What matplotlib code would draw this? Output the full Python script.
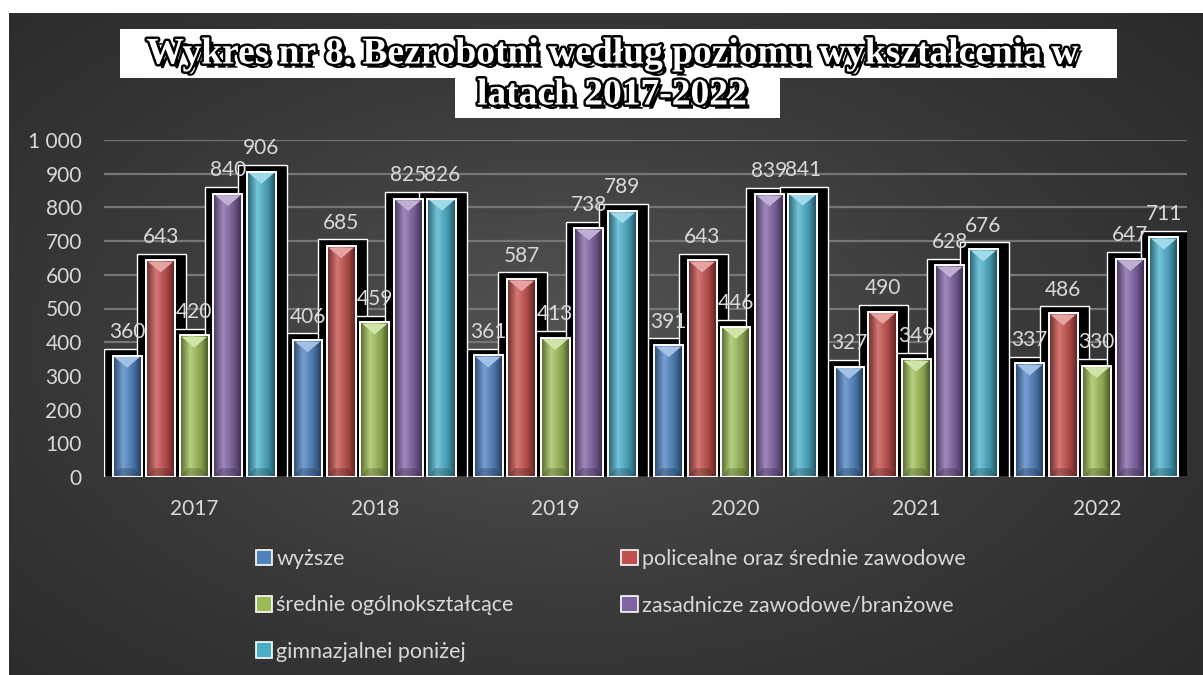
import numpy as np
import matplotlib

matplotlib.use("Agg")

import matplotlib.pyplot as plt
from matplotlib import patheffects
from matplotlib.colors import LinearSegmentedColormap, to_rgb
from matplotlib.patches import Patch, Rectangle
from matplotlib.ticker import FuncFormatter

plt.rcParams["font.family"] = ["Lato", "DejaVu Sans"]

years = ["2017", "2018", "2019", "2020", "2021", "2022"]
series_names = [
    "wyższe",
    "policealne oraz średnie zawodowe",
    "średnie ogólnokształcące",
    "zasadnicze zawodowe/branżowe",
    "gimnazjalnei poniżej",
]
wyzsze = [360, 406, 361, 391, 327, 337]
policealne = [643, 685, 587, 643, 490, 486]
srednie = [420, 459, 413, 446, 349, 330]
zasadnicze = [840, 825, 738, 839, 628, 647]
gimnazjalne = [906, 826, 789, 841, 676, 711]
series_values = [wyzsze, policealne, srednie, zasadnicze, gimnazjalne]
colors = ["#4f81bd", "#c0504d", "#9bbb59", "#8064a2", "#4bacc6"]

TEXT_COLOR = "#d9d9d9"

fig = plt.figure(figsize=(12.03, 6.75), dpi=100)
fig.patch.set_facecolor("white")

# ciemne tło z gradientem
bg_ax = fig.add_axes([9 / 1203, 0, 1 - 9 / 1203, 1 - 13 / 675], zorder=-1)
gx, gy = np.meshgrid(np.linspace(0, 1, 300), np.linspace(0, 1, 200))
dist = np.sqrt(((gx - 0.47) / 0.75) ** 2 + ((gy - 0.5) / 0.8) ** 2)
shade = np.clip(1 - dist, 0, 1)
bg_cmap = LinearSegmentedColormap.from_list("bg", ["#282828", "#3a3a3a", "#545454"])
bg_ax.imshow(shade, cmap=bg_cmap, aspect="auto", extent=(0, 1, 0, 1), vmin=0, vmax=1)
bg_ax.axis("off")

ax = fig.add_axes([104 / 1203, 1 - 477 / 675, (1187 - 104) / 1203, (477 - 140) / 675])
ax.set_facecolor("none")

x = np.arange(len(years))
pitch = 0.186
width = 0.16

# cienie słupków
for i, values in enumerate(series_values):
    vals = np.array(values)
    ax.bar(x + (i - 2) * pitch + 0.006, vals + 20, width + 0.11,
           color="black", edgecolor="white", linewidth=1.0, zorder=2)

# słupki z gradientem
for i, (values, color) in enumerate(zip(series_values, colors)):
    base = np.array(to_rgb(color))
    dark = base * 0.55
    light = np.clip(base * 0.85 + 0.2, 0, 1)
    cmap = LinearSegmentedColormap.from_list(
        f"g{i}", [(0, dark), (0.35, light), (0.75, base * 0.85), (1, dark * 0.8)]
    )
    grad = np.tile(np.linspace(0, 1, 64), (8, 1))
    bars = ax.bar(x + (i - 2) * pitch, values, width, color=color, zorder=3)
    for bar in bars:
        x0, w, h = bar.get_x(), bar.get_width(), bar.get_height()
        im = ax.imshow(grad, cmap=cmap, aspect="auto", extent=(x0, x0 + w, 0, h),
                       interpolation="bicubic", zorder=3.2)
        im.set_clip_path(bar)
        tip = np.clip(base * 0.6 + 0.45, 0, 1)
        ax.fill([x0 + w * 0.06, x0 + w * 0.94, x0 + w / 2], [h - 4, h - 4, h - 36],
                color=tip, zorder=3.4, linewidth=0)
        ax.fill([x0 + w * 0.06, x0 + w * 0.94, x0 + w * 0.75, x0 + w * 0.25],
                [4, 4, 26, 26], color=dark * 0.8, alpha=0.35, zorder=3.4, linewidth=0)
        ax.annotate(str(int(h)), (x0 + w / 2, h), xytext=(0, 17), textcoords="offset points",
                    ha="center", va="center", fontsize=15, color=TEXT_COLOR, zorder=6)
    ax.bar(x + (i - 2) * pitch, values, width, facecolor="none",
           edgecolor="white", linewidth=1.4, zorder=4)

ax.set_xlim(-0.5, len(years) - 0.5)
ax.set_ylim(0, 1000)
ax.set_yticks(np.arange(0, 1001, 100))
ax.yaxis.set_major_formatter(FuncFormatter(lambda v, _: f"{int(v):,}".replace(",", " ")))
ax.set_xticks(x)
ax.set_xticklabels(years)
ax.grid(axis="y", color="#767676", linewidth=1.6, zorder=0.5)
ax.set_axisbelow(True)
for spine in ax.spines.values():
    spine.set_visible(False)
ax.tick_params(axis="y", length=0, pad=16, labelsize=15, labelcolor=TEXT_COLOR)
ax.tick_params(axis="x", length=0, pad=16, labelsize=15, labelcolor=TEXT_COLOR)

# tytuł na białych polach
fig.patches.append(Rectangle((120 / 1203, 1 - 78 / 675), (1117 - 120) / 1203, 49 / 675,
                             transform=fig.transFigure, facecolor="white", edgecolor="none"))
fig.patches.append(Rectangle((455 / 1203, 1 - 118 / 675), (780 - 455) / 1203, 40 / 675,
                             transform=fig.transFigure, facecolor="white", edgecolor="none"))
title_fx = [
    patheffects.SimplePatchShadow(offset=(3, -3), shadow_rgbFace="black", alpha=1),
    patheffects.withStroke(linewidth=3.5, foreground="black"),
]
for line, ypix in [("Wykres nr 8. Bezrobotni według poziomu wykształcenia w", 54),
                   ("latach 2017-2022", 95)]:
    fig.text(612 / 1203, 1 - ypix / 675, line, ha="center", va="center",
             fontsize=27, fontweight="bold", family=["Liberation Serif", "DejaVu Serif"],
             color="white", path_effects=title_fx)

handles = [Patch(facecolor=c, edgecolor="white", linewidth=1.2) for c in colors]
order = [0, 2, 4, 1, 3]
leg = fig.legend([handles[k] for k in order], [series_names[k] for k in order],
                 ncol=2, loc="upper left", bbox_to_anchor=(256 / 1203, 1 - 549 / 675),
                 frameon=False, fontsize=15.5, handlelength=0.75, handleheight=0.75,
                 handletextpad=0.2, columnspacing=5.0, labelspacing=1.22,
                 borderpad=0, borderaxespad=0)
for t in leg.get_texts():
    t.set_color(TEXT_COLOR)

fig.savefig("out.png", dpi=100, facecolor=fig.get_facecolor())
